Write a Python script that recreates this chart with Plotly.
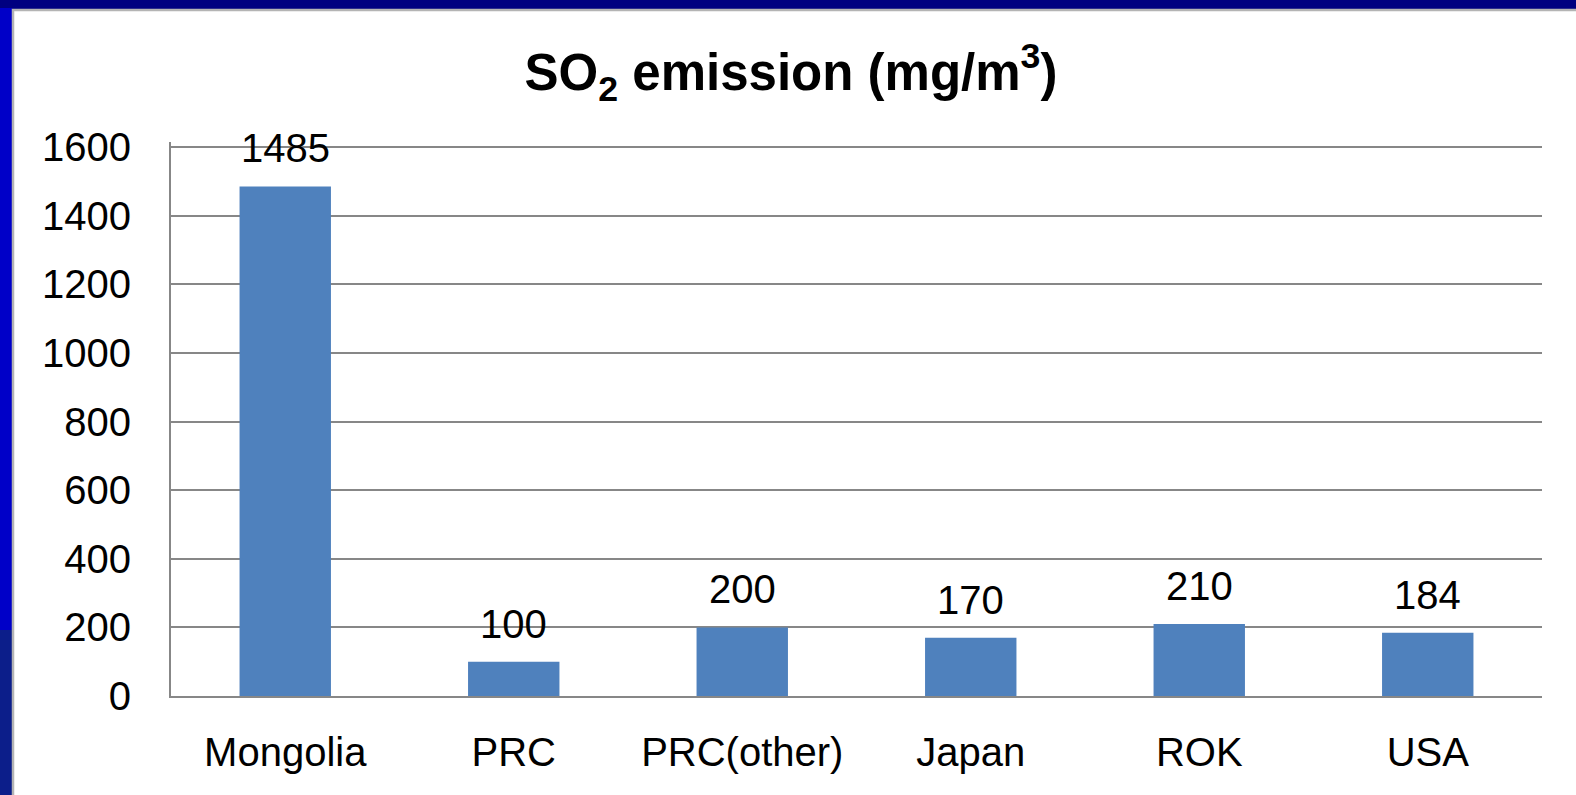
import plotly.graph_objects as go

categories = ["Mongolia", "PRC", "PRC(other)", "Japan", "ROK", "USA"]
values = [1485, 100, 200, 170, 210, 184]
y_ticks = [0, 200, 400, 600, 800, 1000, 1200, 1400, 1600]
title_text = "<b>SO<sub>2</sub> emission (mg/m<sup>3</sup>)</b>"

W, H = 1576, 795
L, R, T, B = 171, 1542, 142, 696  # plot area in pixels
PW, PH = R - L, B - T
Y_MAX = PH / (549 / 1600)  # keeps 1600 gridline at pixel 147

def px(x):
    return (x - L) / PW

def py(y):
    return (B - y) / PH

FONT = "Liberation Sans, Arial, sans-serif"
GRID = "#878787"

fig = go.Figure()
fig.add_trace(go.Bar(
    x=categories, y=values,
    marker=dict(color="#4F81BD", line=dict(width=0)),
    width=0.4,
    hoverinfo="x+y",
))

for c, v in zip(categories, values):
    fig.add_annotation(x=c, y=v, text=str(v), showarrow=False,
                       xref="x", yref="y", yanchor="bottom", yshift=14,
                       font=dict(family=FONT, size=40, color="#000000"))

shapes = [
    dict(type="rect", xref="paper", yref="paper", x0=px(-5), x1=px(12), y0=py(630), y1=py(8),
         fillcolor="#0000C8", line=dict(width=0), layer="below"),
    dict(type="rect", xref="paper", yref="paper", x0=px(-5), x1=px(12), y0=py(800), y1=py(630),
         fillcolor="#0C1E8A", line=dict(width=0), layer="below"),
    dict(type="rect", xref="paper", yref="paper", x0=px(13), x1=px(1590), y0=py(810), y1=py(10),
         fillcolor="#FFFFFF", line=dict(color="#B4B4B4", width=2.5), layer="below"),
]

fig.update_layout(
    width=W, height=H,
    margin=dict(l=L, r=W - R, t=T, b=H - B, pad=0),
    paper_bgcolor="#000080",
    plot_bgcolor="rgba(0,0,0,0)",
    showlegend=False,
    shapes=shapes,
    title=dict(text=title_text, x=791 / W, xanchor="center", xref="container",
               y=1 - 72 / H, yanchor="middle", yref="container",
               font=dict(family=FONT, size=51, color="#000000")),
    font=dict(family=FONT, color="#000000"),
)

fig.update_xaxes(
    showgrid=False, showline=True, linecolor=GRID, linewidth=2,
    ticks="", tickfont=dict(family=FONT, size=40, color="#000000"),
    ticklabelstandoff=20, fixedrange=True,
)
fig.update_yaxes(
    range=[0, Y_MAX], tickvals=y_ticks, ticktext=[str(t) for t in y_ticks],
    showgrid=True, gridcolor=GRID, gridwidth=2,
    showline=True, linecolor=GRID, linewidth=2,
    zeroline=False, ticks="",
    tickfont=dict(family=FONT, size=40, color="#000000"),
    ticklabelstandoff=30, fixedrange=True,
)

fig.write_html("out.html",
               config={"displayModeBar": False},
               post_script="document.body.style.margin='0';document.body.style.overflow='hidden';")
